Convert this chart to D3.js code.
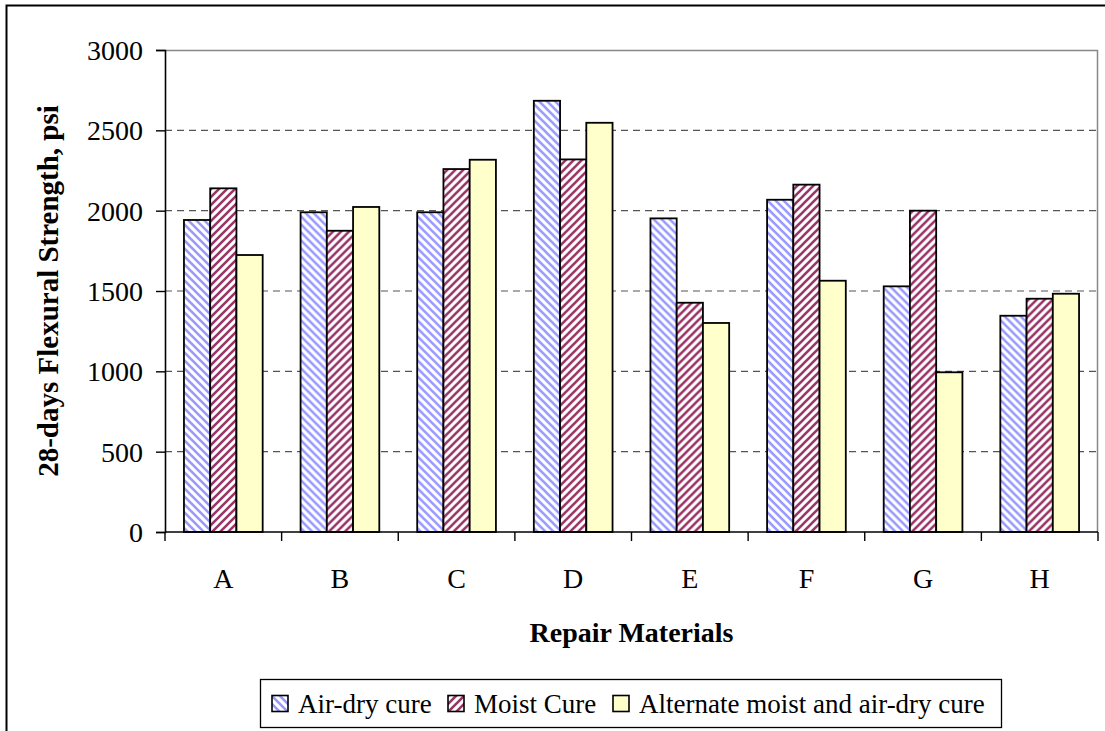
<!DOCTYPE html>
<html>
<head>
<meta charset="utf-8">
<script src="https://cdn.jsdelivr.net/npm/d3@7"></script>
<style>
  html, body { margin: 0; padding: 0; background: #fff; }
  svg { display: block; }
  text { font-family: "Liberation Serif", "Times New Roman", serif; fill: #000; }
</style>
</head>
<body>
<svg id="chart" width="1105" height="731"></svg>
<script>
// Repair materials and 28-day flexural strength (psi) per curing regime
const categories = ["A", "B", "C", "D", "E", "F", "G", "H"];
const seriesNames = ["Air-dry cure", "Moist Cure", "Alternate moist and air-dry cure"];
const airDry    = [1942, 1990, 1990, 2684, 1952, 2068, 1529, 1346];
const moist     = [2139, 1875, 2259, 2319, 1427, 2162, 2000, 1452];
const alternate = [1724, 2023, 2317, 2547, 1301, 1564,  994, 1483];
const yTicks = [0, 500, 1000, 1500, 2000, 2500, 3000];

const series = [airDry, moist, alternate];

const svg = d3.select("#chart");
const margin = { left: 165, right: 1098, top: 50, bottom: 532 };

// Outer chart frame
svg.append("rect")
  .attr("x", 6.5).attr("y", 5.5)
  .attr("width", 1200).attr("height", 800)
  .attr("fill", "none").attr("stroke", "#000").attr("stroke-width", 2);

// Fill patterns
const defs = svg.append("defs");
function stripes(id, color, dir) {
  const p = defs.append("pattern")
    .attr("id", id)
    .attr("patternUnits", "userSpaceOnUse")
    .attr("width", 8).attr("height", 8);
  p.append("rect").attr("width", 8).attr("height", 8).attr("fill", "#fff");
  const d = dir > 0
    ? "M-2,2 L2,-2 M0,8 L8,0 M6,10 L10,6"
    : "M-2,6 L2,10 M0,0 L8,8 M6,-2 L10,2";
  p.append("path").attr("d", d).attr("stroke", color).attr("stroke-width", 2.6);
}
stripes("hatchBlue", "#9999ff", -1);
stripes("hatchRed", "#993366", 1);
const fills = ["url(#hatchBlue)", "url(#hatchRed)", "#ffffcc"];

const x = d3.scaleBand().domain(categories).range([margin.left, margin.right]).paddingInner(0).paddingOuter(0);
const groupFrac = 0.675;
const xInner = d3.scaleBand().domain(d3.range(series.length))
  .range([0, x.bandwidth() * groupFrac]);
const y = d3.scaleLinear().domain([0, 3000]).range([margin.bottom, margin.top]);

// Plot area border (top and right)
svg.append("path")
  .attr("d", `M${margin.left},${margin.top + 0.5}H${margin.right - 0.5}V${margin.bottom}`)
  .attr("fill", "none").attr("stroke", "#888").attr("stroke-width", 1.5);

// Dashed gridlines
svg.append("g").selectAll("line")
  .data(yTicks.filter(t => t > 0 && t < 3000))
  .join("line")
  .attr("x1", margin.left).attr("x2", margin.right - 1)
  .attr("y1", d => y(d)).attr("y2", d => y(d))
  .attr("stroke", "#555").attr("stroke-width", 1.2)
  .attr("stroke-dasharray", "7,5");

// Bars
const groups = svg.append("g").selectAll("g")
  .data(categories)
  .join("g")
  .attr("transform", c => `translate(${x(c) + x.bandwidth() * (1 - groupFrac) / 2},0)`);

groups.selectAll("rect")
  .data((c, i) => series.map((s, k) => ({ k, v: s[i] })))
  .join("rect")
  .attr("x", d => xInner(d.k))
  .attr("width", xInner.bandwidth())
  .attr("y", d => y(d.v))
  .attr("height", d => y(0) - y(d.v))
  .attr("fill", d => fills[d.k])
  .attr("stroke", "#000").attr("stroke-width", 1.8);

// Y axis
const yAxis = svg.append("g")
  .attr("transform", `translate(${margin.left},0)`)
  .call(d3.axisLeft(y).tickValues(yTicks).tickSize(9).tickPadding(13).tickFormat(d3.format("d")));
yAxis.select(".domain").attr("stroke", "#000").attr("stroke-width", 1.6);
yAxis.selectAll(".tick line").attr("stroke", "#000").attr("stroke-width", 1.4);
yAxis.selectAll("text")
  .style("font-family", "'Liberation Serif', serif")
  .style("font-size", "28px").attr("fill", "#000")
  .attr("dy", "0.34em");

// X axis: ticks at category boundaries
svg.append("line")
  .attr("x1", margin.left).attr("x2", margin.right)
  .attr("y1", margin.bottom).attr("y2", margin.bottom)
  .attr("stroke", "#000").attr("stroke-width", 1.6);
svg.append("g").selectAll("line")
  .data(categories.concat(["end"]))
  .join("line")
  .attr("x1", (c, i) => i < categories.length ? x(c) : margin.right)
  .attr("x2", (c, i) => i < categories.length ? x(c) : margin.right)
  .attr("y1", margin.bottom).attr("y2", margin.bottom + 9)
  .attr("stroke", "#000").attr("stroke-width", 1.4);
svg.append("g").selectAll("text")
  .data(categories)
  .join("text")
  .attr("x", c => x(c) + x.bandwidth() / 2)
  .attr("y", 588)
  .attr("text-anchor", "middle")
  .style("font-size", "28px")
  .text(c => c);

// Axis titles
svg.append("text")
  .attr("x", (margin.left + margin.right) / 2)
  .attr("y", 642)
  .attr("text-anchor", "middle")
  .style("font-size", "28px").style("font-weight", "bold")
  .text("Repair Materials");

svg.append("text")
  .attr("transform", `translate(58,${(margin.top + margin.bottom) / 2}) rotate(-90)`)
  .attr("text-anchor", "middle")
  .style("font-size", "29px").style("font-weight", "bold")
  .text("28-days Flexural Strength, psi");

// Legend
const legend = svg.append("g");
legend.append("rect")
  .attr("x", 260.5).attr("y", 679.5).attr("width", 741).attr("height", 48)
  .attr("fill", "#fff").attr("stroke", "#000").attr("stroke-width", 1.3);
const legendX = [272, 448, 613];
seriesNames.forEach((name, k) => {
  legend.append("rect")
    .attr("x", legendX[k]).attr("y", 695.5)
    .attr("width", 16).attr("height", 16)
    .attr("fill", fills[k]).attr("stroke", "#000").attr("stroke-width", 1.6);
  legend.append("text")
    .attr("x", legendX[k] + 26).attr("y", 713)
    .style("font-size", "27px")
    .text(name);
});
</script>
</body>
</html>
